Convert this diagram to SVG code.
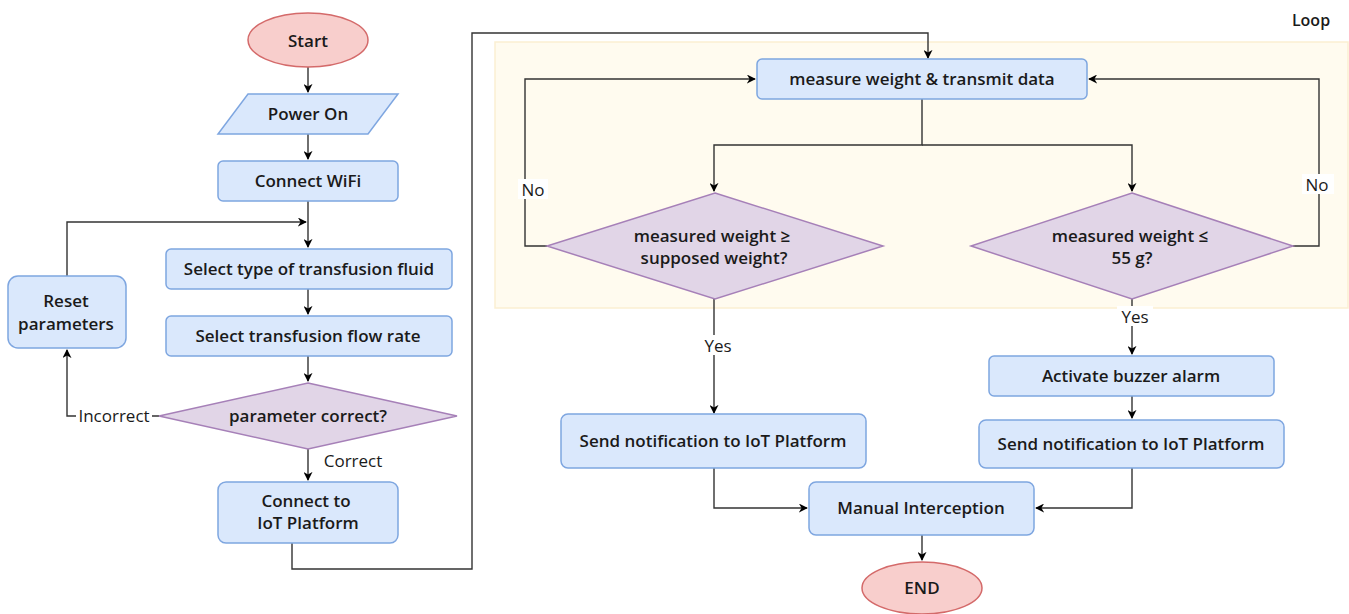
<svg xmlns="http://www.w3.org/2000/svg" width="1349" height="614" viewBox="0 0 1349 614">
<defs>
<marker id="ah" viewBox="0 0 10 10" refX="9" refY="5" markerWidth="9" markerHeight="9" markerUnits="userSpaceOnUse" orient="auto">
<path d="M0,0 L10,5 L0,10 L3,5 Z" fill="#000"/>
</marker>
<style>
.box{fill:#dae8fc;stroke:#7ea6e0;stroke-width:1.5}
.term{fill:#f8cecc;stroke:#d46a6a;stroke-width:1.5}
.dec{fill:#e1d5e7;stroke:#a680b8;stroke-width:1.5}
.t{font-family:"Open Sans","Liberation Sans",sans-serif;font-size:17px;font-weight:600;fill:#1a1a1a;text-anchor:middle;dominant-baseline:central}
.lbl{font-family:"Open Sans","Liberation Sans",sans-serif;font-size:17px;font-weight:500;fill:#1a1a1a;text-anchor:middle;dominant-baseline:central}
.c{fill:none;stroke:#333;stroke-width:1.4}
.lb{fill:#fff}
</style>
</defs>
<rect width="1349" height="614" fill="#fff"/>
<g id="loop">
<rect x="495" y="42" width="853" height="266" fill="#fffbef" stroke="#fbefd2" stroke-width="1.5"/>
<text class="t" x="1311" y="20" style="font-size:16px">Loop</text>
</g>
<g id="connectors">
<path class="c" d="M308,67 V92" marker-end="url(#ah)"/>
<path class="c" d="M308,134 V159" marker-end="url(#ah)"/>
<path class="c" d="M308,201 V247" marker-end="url(#ah)"/>
<path class="c" d="M67,276 V222 H306" marker-end="url(#ah)"/>
<path class="c" d="M308,289 V314" marker-end="url(#ah)"/>
<path class="c" d="M308,356 V381" marker-end="url(#ah)"/>
<path class="c" d="M159,416 H67 V350" marker-end="url(#ah)"/>
<path class="c" d="M308,449 V480" marker-end="url(#ah)"/>
<path class="c" d="M292,543 V569 H472 V33 H928 V58" marker-end="url(#ah)"/>
<path class="c" d="M922,99 V145 H714 V191" marker-end="url(#ah)"/>
<path class="c" d="M922,145 H1132 V191" marker-end="url(#ah)"/>
<path class="c" d="M547,246 H525 V79 H755" marker-end="url(#ah)"/>
<path class="c" d="M1293,246 H1319 V79 H1089" marker-end="url(#ah)"/>
<path class="c" d="M714,299 V413" marker-end="url(#ah)"/>
<path class="c" d="M1132,299 V354" marker-end="url(#ah)"/>
<path class="c" d="M1132,396 V418" marker-end="url(#ah)"/>
<path class="c" d="M714,468 V508 H807" marker-end="url(#ah)"/>
<path class="c" d="M1132,468 V508 H1036" marker-end="url(#ah)"/>
<path class="c" d="M922,535 V560" marker-end="url(#ah)"/>
<rect class="lb" x="76" y="406" width="76" height="20"/>
<text class="lbl" x="114" y="415">Incorrect</text>
<text class="lbl" x="353" y="460">Correct</text>
<rect class="lb" x="518" y="179" width="30" height="20"/>
<text class="lbl" x="533" y="189">No</text>
<rect class="lb" x="1302" y="174" width="32" height="20"/>
<text class="lbl" x="1317" y="184">No</text>
<rect class="lb" x="700" y="335" width="36" height="20"/>
<text class="lbl" x="718" y="345">Yes</text>
<rect class="lb" x="1117" y="306" width="36" height="20"/>
<text class="lbl" x="1135" y="316">Yes</text>
</g>
<g id="start">
<ellipse class="term" cx="308" cy="40" rx="60" ry="27"/>
<text class="t" x="308" y="40">Start</text>
</g>
<g id="power">
<polygon class="box" points="248,94 398,94 368,134 218,134"/>
<text class="t" x="308" y="113">Power On</text>
</g>
<g id="wifi">
<rect class="box" x="218" y="161" width="180" height="40" rx="5"/>
<text class="t" x="308" y="180">Connect WiFi</text>
</g>
<g id="selType">
<rect class="box" x="166" y="249" width="286" height="40" rx="5"/>
<text class="t" x="309" y="268">Select type of transfusion fluid</text>
</g>
<g id="reset">
<rect class="box" x="8" y="276" width="118" height="72" rx="10"/>
<text class="t" x="66" y="300">Reset</text>
<text class="t" x="66" y="323">parameters</text>
</g>
<g id="selRate">
<rect class="box" x="166" y="316" width="286" height="40" rx="5"/>
<text class="t" x="308" y="335">Select transfusion flow rate</text>
</g>
<g id="paramOk">
<polygon class="dec" points="308,383 457,416 308,449 159,416"/>
<text class="t" x="308" y="415">parameter correct?</text>
</g>
<g id="connIot">
<rect class="box" x="218" y="482" width="180" height="61" rx="8"/>
<text class="t" x="306" y="500">Connect to</text>
<text class="t" x="308" y="522">IoT Platform</text>
</g>
<g id="measure">
<rect class="box" x="757" y="59" width="330" height="40" rx="5"/>
<text class="t" x="922" y="78">measure weight &amp; transmit data</text>
</g>
<g id="decSupposed">
<polygon class="dec" points="715,193 883,246 715,299 547,246"/>
<text class="t" x="712" y="235">measured weight ≥</text>
<text class="t" x="714" y="257">supposed weight?</text>
</g>
<g id="dec55">
<polygon class="dec" points="1132,193 1293,246 1132,299 971,246"/>
<text class="t" x="1130" y="235">measured weight ≤</text>
<text class="t" x="1132" y="257">55 g?</text>
</g>
<g id="notifyLeft">
<rect class="box" x="561" y="414" width="305" height="54" rx="7"/>
<text class="t" x="713" y="440">Send notification to IoT Platform</text>
</g>
<g id="buzzer">
<rect class="box" x="989" y="356" width="285" height="40" rx="5"/>
<text class="t" x="1131" y="375">Activate buzzer alarm</text>
</g>
<g id="notifyRight">
<rect class="box" x="979" y="420" width="305" height="48" rx="7"/>
<text class="t" x="1131" y="443">Send notification to IoT Platform</text>
</g>
<g id="manual">
<rect class="box" x="809" y="482" width="225" height="53" rx="7"/>
<text class="t" x="921" y="507">Manual Interception</text>
</g>
<g id="end">
<ellipse class="term" cx="922" cy="588" rx="60" ry="26"/>
<text class="t" x="922" y="587">END</text>
</g>
</svg>
